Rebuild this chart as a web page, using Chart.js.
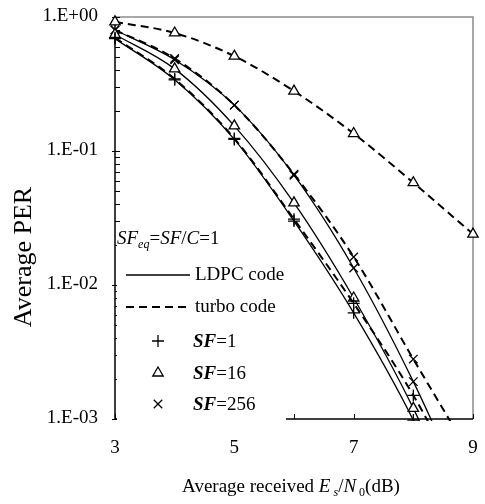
<!DOCTYPE html>
<html>
<head>
<meta charset="utf-8">
<script src="https://cdn.jsdelivr.net/npm/chart.js@4.4.1/dist/chart.umd.min.js"></script>
<style>
  html, body { margin: 0; padding: 0; background: #fff; }
</style>
</head>
<body>
<canvas id="per-chart" width="485" height="504"></canvas>
<script>
(function () {
  "use strict";

  // Es/N0 (dB)
  var snr = [3, 4, 5, 6, 7, 8, 9];

  // Average PER
  var ldpcSf1 = [0.69, 0.34, 0.122, 0.030, 0.0062, 0.00098, 0.0001];
  var turboSf1 = [0.70, 0.345, 0.124, 0.031, 0.0073, 0.0015, 0.00022];
  var ldpcSf16 = [0.74, 0.41, 0.154, 0.041, 0.008, 0.0012, 0.00012];
  var turboSf16 = [0.92, 0.76, 0.51, 0.28, 0.135, 0.058, 0.024];
  var ldpcSf256 = [0.8, 0.48, 0.22, 0.066, 0.0134, 0.0019, 0.0002];
  var turboSf256 = [0.8, 0.49, 0.22, 0.067, 0.0162, 0.0028, 0.0005];

  // axis ticks
  var xTickValues = [3, 4, 5, 6, 7, 8, 9];
  var xTickLabels = ["3", "", "5", "", "7", "", "9"];
  var yTickValues = [1, 0.1, 0.01, 0.001];
  var yTickLabels = ["1.E+00", "1.E-01", "1.E-02", "1.E-03"];

  var FONT = "'Liberation Serif', 'Times New Roman', serif";

  function font(style, size) {
    return (style || "") + " " + size + "px " + FONT;
  }

  // draws a run of text pieces: [text, style, subscript]
  function richText(ctx, parts, x, y, size, align) {
    var widths = parts.map(function (p) {
      ctx.font = font(p[1], p[2] ? Math.round(size * 0.65) : size);
      return ctx.measureText(p[0]).width;
    });
    var total = widths.reduce(function (a, b) { return a + b; }, 0);
    var cx = align === "center" ? x - total / 2 : x;
    ctx.textAlign = "left";
    ctx.textBaseline = "alphabetic";
    parts.forEach(function (p, i) {
      ctx.font = font(p[1], p[2] ? Math.round(size * 0.65) : size);
      ctx.fillText(p[0], cx, p[2] ? y + size * 0.22 : y);
      cx += widths[i];
    });
  }

  function series(values, style, dashed) {
    return {
      data: snr.map(function (x, i) { return { x: x, y: values[i] }; }),
      borderColor: "#000",
      borderWidth: dashed ? 2 : 1.3,
      borderDash: dashed ? [8, 5] : [],
      pointStyle: style,
      pointRadius: 6,
      pointHoverRadius: 6,
      pointBorderWidth: 1.3,
      pointBackgroundColor: "#fff",
      pointBorderColor: "#000",
      cubicInterpolationMode: "monotone",
      clip: { left: 10, top: 10, right: 10, bottom: 2 },
    };
  }

  // frame, inside ticks, labels, legend
  var decor = {
    id: "decor",
    beforeDatasetsDraw: function (chart) {
      var ctx = chart.ctx;
      var a = chart.chartArea;
      var xs = chart.scales.x;
      var ys = chart.scales.y;
      ctx.save();
      ctx.lineWidth = 1.5;
      ctx.strokeStyle = "#8c8c8c";
      ctx.beginPath();
      ctx.moveTo(a.left, a.top);
      ctx.lineTo(a.right, a.top);
      ctx.lineTo(a.right, a.bottom);
      ctx.stroke();
      ctx.strokeStyle = "#000";
      ctx.beginPath();
      ctx.moveTo(a.left, a.top);
      ctx.lineTo(a.left, a.bottom);
      ctx.lineTo(a.right, a.bottom);
      ctx.stroke();
      ctx.lineWidth = 1;
      ctx.beginPath();
      yTickValues.forEach(function (d) {
        for (var m = 1; m < 10; m++) {
          var v = d * m;
          if (v > 1.0001) break;
          var py = Math.round(ys.getPixelForValue(v)) + 0.5;
          ctx.moveTo(a.left - (m === 1 ? 3 : 0), py);
          ctx.lineTo(a.left + 5, py);
        }
      });
      xTickValues.forEach(function (v) {
        var px = Math.round(xs.getPixelForValue(v)) + 0.5;
        ctx.moveTo(px, a.bottom);
        ctx.lineTo(px, a.bottom - 5);
      });
      ctx.stroke();
      ctx.restore();
    },
    afterDatasetsDraw: function (chart) {
      var ctx = chart.ctx;
      var a = chart.chartArea;
      ctx.save();
      ctx.fillStyle = "#fff";
      ctx.fillRect(a.left + 2, 226, 169, 204);
      ctx.fillStyle = "#000";
      ctx.strokeStyle = "#000";

      richText(ctx, [["SF", "italic"], ["eq", "italic", true], ["="], ["SF", "italic"], ["/"], ["C", "italic"], ["=1"]], 117, 244, 19);

      ctx.lineWidth = 1.5;
      ctx.beginPath();
      ctx.moveTo(126, 275);
      ctx.lineTo(190, 275);
      ctx.stroke();
      ctx.lineWidth = 2;
      ctx.setLineDash([8, 5]);
      ctx.beginPath();
      ctx.moveTo(126, 307);
      ctx.lineTo(190, 307);
      ctx.stroke();
      ctx.setLineDash([]);

      ctx.font = font("", 19);
      ctx.textBaseline = "middle";
      ctx.fillText("LDPC code", 195, 275);
      ctx.fillText("turbo code", 195, 307);

      var items = [["cross", "1", 341], ["triangle", "16", 373], ["crossRot", "256", 404]];
      items.forEach(function (it) {
        ctx.lineWidth = 1.3;
        ctx.fillStyle = "#fff";
        Chart.helpers.drawPoint(ctx, { pointStyle: it[0], radius: 6, borderWidth: 1.3, rotation: 0 }, 158, it[2]);
        ctx.fillStyle = "#000";
        richText(ctx, [["SF", "italic bold"], ["=" + it[1]]], 193, it[2] + 6, 19);
      });
      ctx.restore();
    },
    afterDraw: function (chart) {
      var ctx = chart.ctx;
      var a = chart.chartArea;
      var xs = chart.scales.x;
      var ys = chart.scales.y;
      ctx.save();
      ctx.fillStyle = "#000";
      ctx.font = font("", 19);
      ctx.textAlign = "right";
      ctx.textBaseline = "middle";
      yTickValues.forEach(function (v, i) {
        ctx.fillText(yTickLabels[i], 98, ys.getPixelForValue(v) - 1);
      });
      ctx.textAlign = "center";
      xTickValues.forEach(function (v, i) {
        ctx.fillText(xTickLabels[i], xs.getPixelForValue(v), a.bottom + 29);
      });

      richText(ctx, [["Average received "], ["E", "italic"], [" s", "italic", true], ["/"], ["N", "italic"], [" 0", "", true], ["(dB)"]], 291, 492, 19, "center");

      ctx.translate(24, 257);
      ctx.rotate(-Math.PI / 2);
      ctx.font = font("", 26);
      ctx.textAlign = "center";
      ctx.textBaseline = "middle";
      ctx.fillText("Average PER", 0, 0);
      ctx.restore();
    },
  };

  var ctx = document.getElementById("per-chart").getContext("2d");
  var perChart = new Chart(ctx, {
    type: "line",
    data: {
      datasets: [
        series(ldpcSf1, "cross", false),
        series(turboSf1, "cross", true),
        series(ldpcSf16, "triangle", false),
        series(turboSf16, "triangle", true),
        series(ldpcSf256, "crossRot", false),
        series(turboSf256, "crossRot", true),
      ],
    },
    options: {
      responsive: false,
      animation: false,
      devicePixelRatio: 1,
      layout: { padding: { left: 115, right: 12, top: 17, bottom: 85 } },
      scales: {
        x: { type: "linear", min: 3, max: 9, display: false },
        y: { type: "logarithmic", min: 0.001, max: 1, display: false },
      },
      plugins: {
        legend: { display: false },
        tooltip: { enabled: false },
      },
    },
    plugins: [decor],
  });
})();
</script>
</body>
</html>
